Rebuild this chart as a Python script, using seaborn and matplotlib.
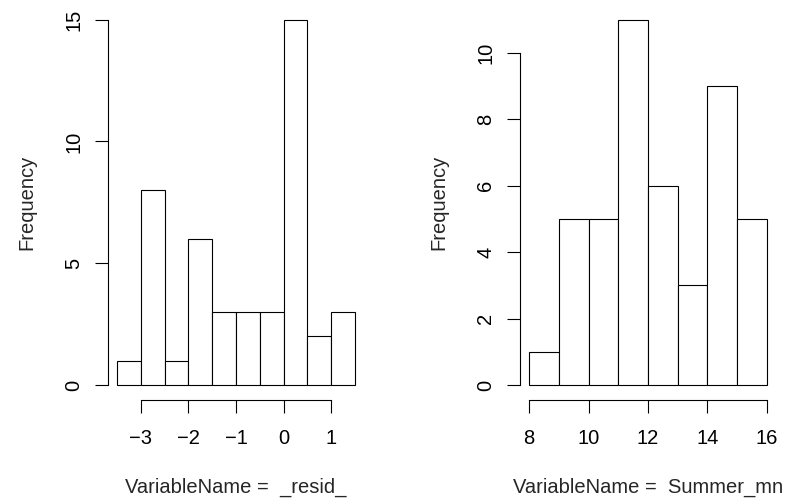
import matplotlib
matplotlib.use("Agg")
import matplotlib.pyplot as plt
import seaborn as sns
import numpy as np
import pandas as pd

# Left histogram: _resid_
resid_edges = [-3.5, -3.0, -2.5, -2.0, -1.5, -1.0, -0.5, 0.0, 0.5, 1.0, 1.5]
resid_counts = [1, 8, 1, 6, 3, 3, 3, 15, 2, 3]
resid_xticks = [-3, -2, -1, 0, 1]
resid_yticks = [0, 5, 10, 15]
resid_label = "VariableName =  _resid_"

# Right histogram: Summer_mn
summer_edges = [8, 9, 10, 11, 12, 13, 14, 15, 16]
summer_counts = [1, 5, 5, 11, 6, 3, 9, 5]
summer_xticks = [8, 10, 12, 14, 16]
summer_yticks = [0, 2, 4, 6, 8, 10]
summer_label = "VariableName =  Summer_mn"

sns.set_style("white")
plt.rcParams['font.family'] = ['Liberation Sans', 'DejaVu Sans']
plt.rcParams['font.size'] = 14.5

W, H = 789, 500
fig = plt.figure(figsize=(W / 100, H / 100), dpi=100)

def make_panel(left_px, right_px, edges, counts, xticks, yticks, xlabel):
    top_px, bottom_px = 5.0, 399.6
    ax = fig.add_axes([left_px / W, 1 - bottom_px / H,
                       (right_px - left_px) / W, (bottom_px - top_px) / H])
    centers = [(a + b) / 2 for a, b in zip(edges[:-1], edges[1:])]
    df = pd.DataFrame({"x": centers, "w": counts})
    sns.histplot(data=df, x="x", weights="w", bins=edges, ax=ax,
                 color="white", edgecolor="black", linewidth=0.8, alpha=1)
    xr = edges[-1] - edges[0]
    ax.set_xlim(edges[0] - 0.04 * xr, edges[-1] + 0.04 * xr)
    ym = max(counts)
    ax.set_ylim(-0.04 * ym, ym * 1.04)
    for s in ["top", "right"]:
        ax.spines[s].set_visible(False)
    ax.spines["left"].set_bounds(yticks[0], yticks[-1])
    ax.spines["bottom"].set_bounds(xticks[0], xticks[-1])
    for s in ["left", "bottom"]:
        ax.spines[s].set_linewidth(0.8)
        ax.spines[s].set_color("black")
    ax.set_xticks(xticks)
    ax.set_yticks(yticks)
    ax.set_xticklabels([str(t).replace("-", "\u2212") for t in xticks])
    ax.set_yticklabels([str(t) for t in yticks], rotation=90, va="center")
    ax.tick_params(axis="both", direction="out", length=9.4, width=0.8,
                   color="black", labelsize=14.5, labelcolor="black",
                   bottom=True, left=True)
    ax.tick_params(axis="x", pad=12)
    ax.tick_params(axis="y", pad=8)
    ax.set_xlabel(xlabel, fontsize=14.5, labelpad=21)
    ax.set_ylabel("Frequency", fontsize=14.5, labelpad=20)
    ax.patch.set_alpha(0)
    return ax

make_panel(107.5, 364.5, resid_edges, resid_counts, resid_xticks, resid_yticks, resid_label)
make_panel(519.5, 776.5, summer_edges, summer_counts, summer_xticks, summer_yticks, summer_label)

fig.savefig("out.png", dpi=100, facecolor="white")
